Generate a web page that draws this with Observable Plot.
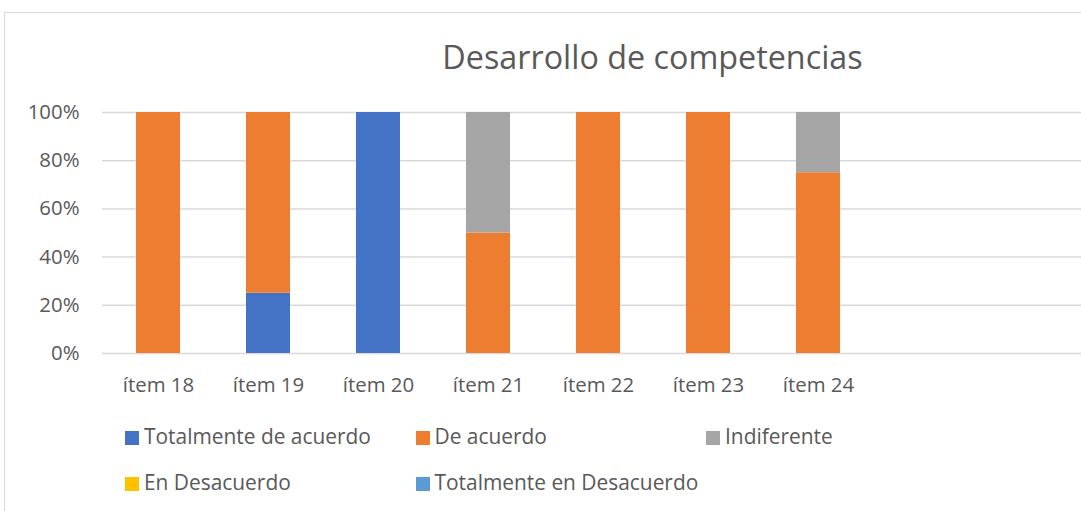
<!DOCTYPE html>
<html>
<head>
<meta charset="utf-8">
<script src="https://cdn.jsdelivr.net/npm/d3@7"></script>
<script src="https://cdn.jsdelivr.net/npm/@observablehq/plot@0.6"></script>
<style>
  html, body { margin: 0; padding: 0; background: #fff; }
  #wrap { position: relative; width: 1081px; height: 511px; overflow: hidden; font-family: "Open Sans", sans-serif; color: #595959; }
  #frame { position: absolute; left: 4px; top: 12px; width: 2000px; height: 2000px; border-left: 1.5px solid #D9D9D9; border-top: 1.5px solid #D9D9D9; }
  #chart { position: absolute; left: 0; top: 0; }
  #title { position: absolute; left: 652.5px; top: 39.6px; transform: translateX(-50%); font-size: 32.3px; line-height: 32px; white-space: nowrap; }
  .leg { position: absolute; white-space: nowrap; font-size: 20.9px; line-height: 21px; }
  .sw { position: absolute; width: 14px; height: 14px; }
</style>
</head>
<body>
<div id="wrap">
  <div id="frame"></div>
  <div id="chart"></div>
  <div id="title">Desarrollo de competencias</div>
  <div id="legend"></div>
</div>
<script>
const items = ["ítem 18", "ítem 19", "ítem 20", "ítem 21", "ítem 22", "ítem 23", "ítem 24"];
const series = ["Totalmente de acuerdo", "De acuerdo", "Indiferente", "En Desacuerdo", "Totalmente en Desacuerdo"];
const colors = ["#4472C4", "#ED7D31", "#A5A5A5", "#FFC000", "#5B9BD5"];
const totalmenteDeAcuerdo = [0, 0.25, 1, 0, 0, 0, 0];
const deAcuerdo = [1, 0.75, 0, 0.5, 1, 1, 0.75];
const indiferente = [0, 0, 0, 0.5, 0, 0, 0.25];
const enDesacuerdo = [0, 0, 0, 0, 0, 0, 0];
const totalmenteEnDesacuerdo = [0, 0, 0, 0, 0, 0, 0];
const yTicks = [0, 0.2, 0.4, 0.6, 0.8, 1];

const seriesValues = [totalmenteDeAcuerdo, deAcuerdo, indiferente, enDesacuerdo, totalmenteEnDesacuerdo];
const data = [];
series.forEach((s, si) => items.forEach((it, i) => data.push({item: it, series: s, value: seriesValues[si][i]})));

const W = 1081, H = 511;
const plot = Plot.plot({
  width: W,
  height: H,
  marginLeft: 102,
  marginRight: 0,
  marginTop: 112,
  marginBottom: 158,
  style: {fontFamily: "'Open Sans', sans-serif", fontSize: "20.4px", color: "#595959", background: "transparent", overflow: "visible"},
  x: {type: "band", domain: items, range: [101.8, 873.8], paddingInner: 0.6, paddingOuter: 0.3, label: null},
  y: {domain: [0, 1], label: null},
  color: {domain: series, range: colors},
  marks: [
    Plot.ruleY(yTicks, {stroke: "#D9D9D9", strokeWidth: 1.5}),
    Plot.barY(data.filter(d => d.value > 0), Plot.stackY({x: "item", y: "value", fill: "series", order: series})),
    Plot.axisY({ticks: yTicks, tickFormat: d3.format(".0%"), tickSize: 0, tickPadding: 23, label: null, fill: "#595959"}),
    Plot.axisX({tickSize: 0, tickPadding: 24, label: null, fill: "#595959", fontSize: "20.4px"})
  ]
});
document.getElementById("chart").appendChild(plot);

const legend = document.getElementById("legend");
series.forEach((s, i) => {
  const col = i % 3, row = Math.floor(i / 3);
  const sx = 125 + col * 290.5, sy = 431 + row * 45.5;
  const sw = document.createElement("div");
  sw.className = "sw";
  sw.style.left = sx + "px";
  sw.style.top = sy + "px";
  sw.style.background = colors[i];
  legend.appendChild(sw);
  const t = document.createElement("div");
  t.className = "leg";
  t.style.left = (sx + 19) + "px";
  t.style.top = (sy + 14 - 18.65) + "px";
  t.textContent = s;
  legend.appendChild(t);
});
</script>
</body>
</html>
